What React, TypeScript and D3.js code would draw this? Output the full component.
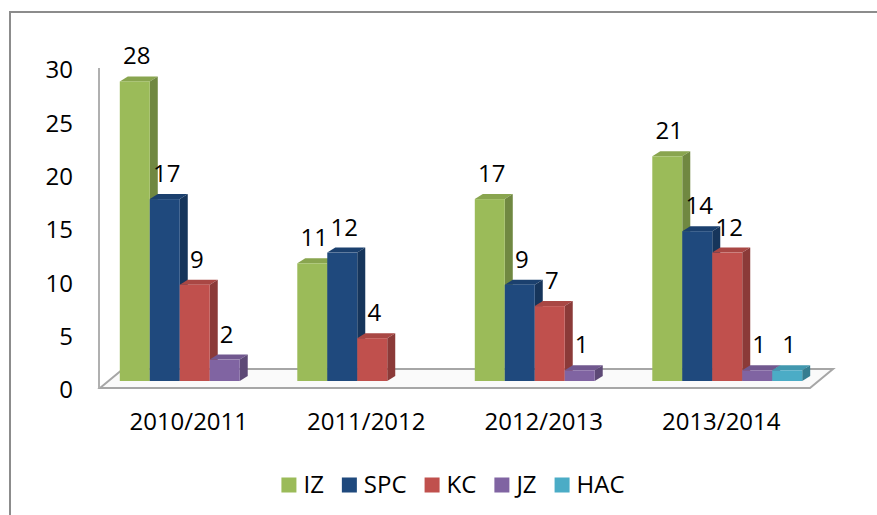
import React, { useEffect, useRef } from "react";
import * as d3 from "d3";

const categories = ["2010/2011", "2011/2012", "2012/2013", "2013/2014"];
const seriesNames = ["IZ", "SPC", "KC", "JZ", "HAC"];
const seriesColors = ["#9BBB59", "#1F497D", "#C0504D", "#8064A2", "#4BACC6"];
const izValues = [28, 11, 17, 21];
const spcValues = [17, 12, 9, 14];
const kcValues = [9, 4, 7, 12];
const jzValues = [2, 0, 1, 1];
const hacValues = [0, 0, 0, 1];
const yTicks = [0, 5, 10, 15, 20, 25, 30];

const seriesValues = [izValues, spcValues, kcValues, jzValues, hacValues];

const App = () => {
  const ref = useRef<SVGSVGElement>(null);
  const width = 877;
  const height = 515;
  const font = "'Open Sans', sans-serif";
  const fontSize = "24px";

  useEffect(() => {
    document.body.style.margin = "0";
    const svg = d3.select(ref.current);
    svg.selectAll("*").remove();

    // outer frame
    svg
      .append("rect")
      .attr("x", 10)
      .attr("y", 12)
      .attr("width", 900)
      .attr("height", 600)
      .attr("fill", "#fff")
      .attr("stroke", "#8c8c8c")
      .attr("stroke-width", 2);

    // front edge of floor
    const xFloor = d3.scaleBand().domain(categories).range([100, 810]);
    const x1 = d3
      .scaleBand()
      .domain(seriesNames)
      .range([0, xFloor.bandwidth()])
      .paddingOuter(0.46);
    const yWall = d3.scaleLinear().domain([0, 30]).range([390, 70]);
    const yBar = d3.scaleLinear().domain([0, 30]).range([381, 60]);

    const floorY = 388;
    const floorDx = 23;
    const floorDy = -19;
    const barShift = 6;
    const dx = 8;
    const dy = -5;

    // floor
    svg
      .append("path")
      .attr(
        "d",
        `M100,${floorY} L${100 + floorDx},${floorY + floorDy} L${810 + floorDx},${floorY + floorDy} L810,${floorY} Z`
      )
      .attr("fill", "#fafafa")
      .attr("stroke", "#a6a6a6")
      .attr("stroke-width", 2);

    // wall line
    svg
      .append("line")
      .attr("x1", 99)
      .attr("x2", 99)
      .attr("y1", yWall(30) - 2)
      .attr("y2", floorY)
      .attr("stroke", "#b0b0b0")
      .attr("stroke-width", 2);

    // y axis labels
    svg
      .selectAll(".ytick")
      .data(yTicks)
      .enter()
      .append("text")
      .attr("x", 73)
      .attr("y", (d) => yWall(d))
      .attr("dy", "0.35em")
      .attr("text-anchor", "end")
      .style("font-family", font)
      .style("font-size", fontSize)
      .style("fill", "#000")
      .text((d) => d);

    // bars
    categories.forEach((cat, ci) => {
      seriesNames.forEach((s, si) => {
        const v = seriesValues[si][ci];
        if (v === 0) return;
        const c = seriesColors[si];
        const x0 = (xFloor(cat) as number) + (x1(s) as number) + barShift;
        const w = x1.bandwidth();
        const yt = yBar(v);
        const yb = yBar(0);
        const g = svg.append("g");
        // top
        g.append("path")
          .attr("d", `M${x0},${yt} L${x0 + dx},${yt + dy} L${x0 + w + dx},${yt + dy} L${x0 + w},${yt} Z`)
          .attr("fill", d3.color(c)!.darker(0.35).toString());
        // side
        g.append("path")
          .attr("d", `M${x0 + w},${yt} L${x0 + w + dx},${yt + dy} L${x0 + w + dx},${yb + dy} L${x0 + w},${yb} Z`)
          .attr("fill", d3.color(c)!.darker(0.9).toString());
        // front
        g.append("rect")
          .attr("x", x0)
          .attr("y", yt)
          .attr("width", w)
          .attr("height", yb - yt)
          .attr("fill", c);
      });
    });

    // value labels
    categories.forEach((cat, ci) => {
      seriesNames.forEach((s, si) => {
        const v = seriesValues[si][ci];
        if (v === 0) return;
        const x0 = (xFloor(cat) as number) + (x1(s) as number) + barShift;
        svg
          .append("text")
          .attr("x", x0 + x1.bandwidth() / 2 + 2)
          .attr("y", yBar(v) - 17)
          .attr("text-anchor", "middle")
          .style("font-family", font)
          .style("font-size", fontSize)
          .style("fill", "#000")
          .text(v);
      });
    });

    // category labels
    svg
      .selectAll(".xlab")
      .data(categories)
      .enter()
      .append("text")
      .attr("x", (d) => (xFloor(d) as number) + xFloor.bandwidth() / 2)
      .attr("y", 422)
      .attr("dy", "0.35em")
      .attr("text-anchor", "middle")
      .style("font-family", font)
      .style("font-size", fontSize)
      .style("fill", "#000")
      .text((d) => d);

    // legend
    const legend = svg.append("g");
    let cx = 0;
    seriesNames.forEach((s, i) => {
      const item = legend.append("g").attr("transform", `translate(${cx},0)`);
      item
        .append("rect")
        .attr("x", 0)
        .attr("y", -7.5)
        .attr("width", 15)
        .attr("height", 15)
        .attr("fill", seriesColors[i]);
      const t = item
        .append("text")
        .attr("x", 22)
        .attr("y", 0)
        .attr("dy", "0.35em")
        .style("font-family", font)
        .style("font-size", fontSize)
        .style("fill", "#000")
        .text(s);
      const tw = (t.node() as SVGTextElement).getComputedTextLength();
      cx += 22 + tw + 18;
    });
    const total = cx - 18;
    legend.attr("transform", `translate(${453 - total / 2},485)`);
  }, []);

  return <svg ref={ref} width={width} height={height} style={{ display: "block" }} />;
};

export default App;
